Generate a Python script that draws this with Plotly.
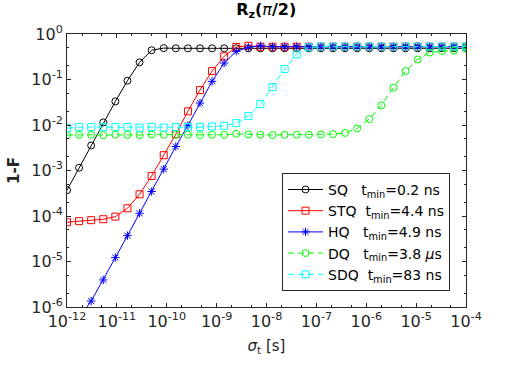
import numpy as np
import plotly.graph_objects as go

# sampling grid of sigma_t (34 log-spaced points between 1e-12 and 1e-4 s)
sigma_t = np.logspace(-12, -4, 34)

SQ = [3.7e-4, 1.15e-3, 3.55e-3, 1.14e-2, 0.033, 0.094, 0.238, 0.44, 0.49] + [0.485] * 25
STQ = [7.3e-5, 7.7e-5, 8.1e-5, 8.5e-5, 9.7e-5, 1.48e-4, 3.0e-4, 7.6e-4, 2.17e-3, 6.3e-3,
       0.020, 0.0586, 0.153, 0.323, 0.517, 0.553] + [0.525] * 18
HQ = [1.9e-7, 5.7e-7, 1.35e-6, 3.93e-6, 1.22e-5, 3.7e-5, 1.15e-4, 3.45e-4, 1.07e-3, 3.37e-3,
      9.8e-3, 0.0303, 0.091, 0.23, 0.416, 0.51, 0.55] + [0.525] * 17
DQ = [6.0e-3, 6.1e-3, 6.1e-3, 6.0e-3, 6.1e-3, 6.1e-3, 6.0e-3, 6.2e-3, 6.1e-3, 6.1e-3,
      6.1e-3, 6.0e-3, 6.1e-3, 6.1e-3, 6.4e-3, 6.2e-3, 6.1e-3, 6.0e-3, 6.1e-3, 6.1e-3,
      6.1e-3, 6.2e-3, 6.3e-3, 6.7e-3, 8.4e-3, 0.0135, 0.027, 0.066, 0.153, 0.275,
      0.39, 0.42, 0.43, 0.48]
SDQ = [8.5e-3, 9.0e-3, 9.0e-3, 9.0e-3, 9.0e-3, 9.0e-3, 8.7e-3, 9.0e-3, 8.8e-3, 9.0e-3,
       9.0e-3, 9.0e-3, 9.3e-3, 9.6e-3, 0.011, 0.0157, 0.0288, 0.068, 0.17, 0.357,
       0.51] + [0.53] * 13

x_exps = [-12, -11, -10, -9, -8, -7, -6, -5, -4]
y_exps = [-6, -5, -4, -3, -2, -1, 0]
x_ticktext = ["10<sup>%d</sup>" % e for e in x_exps]
y_ticktext = ["10<sup>%d</sup>" % e for e in y_exps]

names = ["SQ   t<sub>min</sub>=0.2 ns",
         "STQ  t<sub>min</sub>=4.4 ns",
         "HQ   t<sub>min</sub>=4.9 ns",
         "DQ   t<sub>min</sub>=3.8 <i>μ</i>s",
         "SDQ  t<sub>min</sub>=83 ns"]
series = [SQ, STQ, HQ, DQ, SDQ]
colors = ["#000000", "#ff0000", "#0000ff", "#00ff00", "#00ffff"]
symbols = ["circle-open", "square-open", "asterisk-open", "circle-open", "square-open"]
dashes = ["solid", "solid", "solid", "6px,4px", "6px,4px"]

FONT = "DejaVu Sans"
fig = go.Figure()
for nm, ys, c, s, d in zip(names, series, colors, symbols, dashes):
    fig.add_trace(go.Scatter(
        x=sigma_t, y=ys, mode="lines+markers", name=nm,
        line=dict(color=c, width=1, dash=d),
        marker=dict(symbol=s, size=7, color=c, line=dict(color=c, width=1)),
    ))

axis_common = dict(
    type="log", showgrid=False, zeroline=False,
    showline=True, linecolor="#262626", linewidth=1, mirror="allticks",
    ticks="inside", ticklen=4, tickcolor="#262626", tickangle=0,
    tickfont=dict(family=FONT, size=16, color="#262626"),
    minor=dict(ticks="inside", ticklen=2, tickcolor="#262626", showgrid=False),
)

fig.update_layout(
    width=516, height=369,
    margin=dict(l=67, r=50, t=34, b=62),
    paper_bgcolor="white", plot_bgcolor="white",
    font=dict(family=FONT, size=14, color="#262626"),
    title=dict(text="<b>R<sub>z</sub>(</b><i>π</i><b>/2)</b>", x=0.516, xanchor="center",
               y=0.99, yanchor="top", font=dict(family=FONT, size=16, color="black")),
    xaxis=dict(axis_common, range=[-12, -4],
               tickvals=[10.0 ** e for e in x_exps], ticktext=x_ticktext,
               title=dict(text="<i>σ</i><sub>t</sub> [s]", standoff=10,
                          font=dict(family=FONT, size=15, color="#262626"))),
    yaxis=dict(axis_common, range=[-6, 0],
               tickvals=[10.0 ** e for e in y_exps], ticktext=y_ticktext,
               title=dict(text="<b>1-F</b>", standoff=8,
                          font=dict(family=FONT, size=15, color="#262626"))),
    legend=dict(x=0.96, xanchor="right", y=0.059, yanchor="bottom",
                bgcolor="white", bordercolor="#262626", borderwidth=1,
                font=dict(family=FONT, size=14, color="black"),
                itemwidth=35, tracegroupgap=0),
    showlegend=True,
)

fig.write_html("out.html", config={"displayModeBar": False},
               post_script="document.body.style.margin='0';")
